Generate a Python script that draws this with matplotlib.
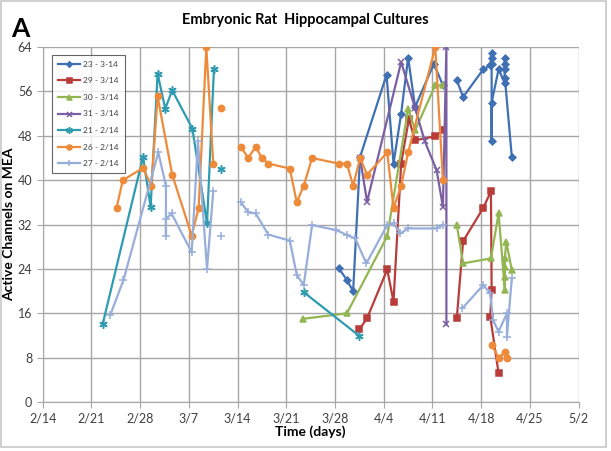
import numpy as np
import matplotlib
matplotlib.use('Agg')
import matplotlib.pyplot as plt

plt.rcParams['font.family'] = ['Lato', 'DejaVu Sans']

nan = np.nan

# days after 2/14
x23 = [42.5, 43.7, 44.6, 45.6, 49.4, 50.4, 51.5, 52.5, 53.5, 56.2, 57.5, nan,
       59.5, 60.4, 63.3, 64.3, 64.5, 64.5, 64.5, 64.5, 64.5, 65.5, 66.4, 66.4,
       66.4, 66.4, 66.4, 67.4]
y23 = [24.2, 22, 20, 44.2, 59, 43, 52, 62.1, 53.2, 61, 57.1, nan,
       58, 55, 60, 60.7, 63, 62, 61, 47, 54, 60, 57.5, 62,
       61, 60, 58.5, 44.2]

x29 = [45.5, 46.6, 49.5, 50.4, 51.5, 52.6, 53.5, 56.4, 57.5, nan,
       59.5, 60.4, 63.3, 64.4, 64.5, 64.3, 65.5]
y29 = [13.1, 15.1, 23.9, 18.1, 43, 51, 47.2, 47.9, 49, nan,
       15.2, 29, 35, 38, 20.2, 15.4, 5.2]

x30 = [37.4, 43.7, 49.5, 52.5, 53.5, 56.4, 57.5, nan,
       59.5, 60.4, 64.4, 65.5, 66.4, 66.4, 66.4, 66.4, 66.6, 67.4]
y30 = [15, 16, 29.9, 52.9, 49, 57.1, 57.1, nan,
       31.9, 25, 25.9, 34, 20.2, 22.6, 24.4, 25.9, 28.9, 23.8]

x31 = [45.6, 46.6, 51.5, 53.5, 54.9, 56.6, 57.5, 58.0, 58.0]
y31 = [44, 36.1, 61.3, 53, 47, 41.8, 35.2, 64, 14]

x21 = [8.6, 14.4, 15.5, 16.5, 17.6, 18.6, 21.5, 23.6, 24.6, nan, 25.6, nan,
       37.5, 45.5]
y21 = [14, 44.2, 35.2, 59.2, 52.9, 56.2, 49.3, 32.2, 60.1, nan, 42.1, nan,
       19.8, 11.9]

x26 = [10.6, 11.5, 14.4, 15.6, 16.5, 18.6, 21.4, 22.4, 23.5, 24.5, nan, 25.6, nan,
       28.5, 29.5, 30.6, 31.5, 32.4, 35.5, 36.5, 37.5, 38.7, 42.5, 43.7, 44.6,
       45.6, 46.6, 49.5, 50.4, 51.5, 52.5, 56.4, 57.5, nan,
       64.5, 65.5, 66.4, 66.7]
y26 = [35, 40, 42.2, 39, 55.1, 41, 30, 35, 64, 43, nan, 53, nan,
       46, 44, 46, 44, 43, 42.1, 36, 39, 44, 43, 43, 39,
       44, 41, 45, 35, 39, 45, 64, 40, nan,
       10.3, 8, 9, 8]

x27 = [9.7, 11.6, 16.6, 17.7, 17.7, 17.7, 18.5, 21.4, 22.3, 23.6, 24.5, nan, 25.6, nan,
       28.5, 29.5, 30.6, 32.4, 35.5, 36.5, 37.5, 38.7, 42.2, 43.7, 44.9, 46.5,
       49.5, 50.4, 51.4, 52.5, 56.6, 57.5, nan,
       60.3, 63.3, 64.3, 64.7, 65.5, 66.7, 66.7, 67.4]
y27 = [15.7, 22, 45, 39, 30, 33, 34, 27, 47, 24, 38, nan, 30, nan,
       36, 34.2, 34, 30.2, 29.1, 22.9, 21.1, 31.9, 31, 30.1, 29.5, 25,
       31.9, 32.2, 30.4, 31.3, 31.3, 31.9, nan,
       16.9, 21.1, 19.6, 14.8, 12.7, 16, 11.8, 22.3]

x_ticks = [0, 7, 14, 21, 28, 35, 42, 49, 56, 63, 70, 77]
x_labels = ['2/14', '2/21', '2/28', '3/7', '3/14', '3/21', '3/28',
            '4/4', '4/11', '4/18', '4/25', '5/2']
y_ticks = [0, 8, 16, 24, 32, 40, 48, 56, 64]

series = [
    (x23, y23, '23 - 3-14', '#4070B4', 'D', 3.5),
    (x29, y29, '29 - 3/14', '#B83C3A', 's', 4.5),
    (x30, y30, '30 - 3/14', '#93B653', '^', 4.5),
    (x31, y31, '31 - 3/14', '#7B5FA3', 'x', 4.5),
    (x21, y21, '21 - 2/14', '#2E9BB0', (6, 2, 0), 6),
    (x26, y26, '26 - 2/14', '#EE8B3A', 'o', 4.5),
    (x27, y27, '27 - 2/14', '#98AEDA', '+', 5.5),
]

fig = plt.figure(figsize=(6.11, 4.51), dpi=100)
ax = fig.add_axes([0.070, 0.1086, 0.877, 0.787])

for xs, ys, lab, col, mk, ms in series:
    ax.plot(xs, ys, color=col, marker=mk, markersize=ms, lw=1.6,
            markeredgewidth=1.1, label=lab)

ax.set_xlim(0, 77)
ax.set_ylim(0, 64)
ax.set_xticks(x_ticks)
ax.set_xticklabels(x_labels)
ax.set_yticks(y_ticks)
ax.grid(True, color='#A6A6A6', lw=1)
ax.set_axisbelow(True)
for s in ['top', 'right']:
    ax.spines[s].set_visible(False)
for s in ['left', 'bottom']:
    ax.spines[s].set_color('#A6A6A6')
ax.tick_params(colors='#404040', labelsize=9, length=4, color='#A6A6A6')

ax.set_xlabel('Time (days)', fontsize=10, fontweight='bold', labelpad=1)
ax.set_ylabel('Active Channels on MEA', fontsize=10, fontweight='bold', labelpad=2)
fig.text(0.5, 0.955, 'Embryonic Rat  Hippocampal Cultures', ha='center', va='center',
         fontsize=10.5, fontweight='bold')
fig.text(0.018, 0.935, 'A', fontsize=19, fontweight='bold', va='center')

leg = ax.legend(loc='upper left', bbox_to_anchor=(0.018, 0.978), fontsize=6,
                frameon=True, fancybox=False, borderpad=0.7, labelspacing=1.15,
                handlelength=2.6, handletextpad=0.4, markerscale=0.8,
                borderaxespad=0)
leg.get_frame().set_edgecolor('#404040')
leg.get_frame().set_linewidth(0.8)
for t in leg.get_texts():
    t.set_color('#404040')

fig.patches.append(plt.Rectangle((0.002, 0.008), 0.99, 0.99, transform=fig.transFigure,
                                 fill=False, edgecolor='#C8C8C8', lw=1.2))

fig.savefig('out.png', dpi=100)
